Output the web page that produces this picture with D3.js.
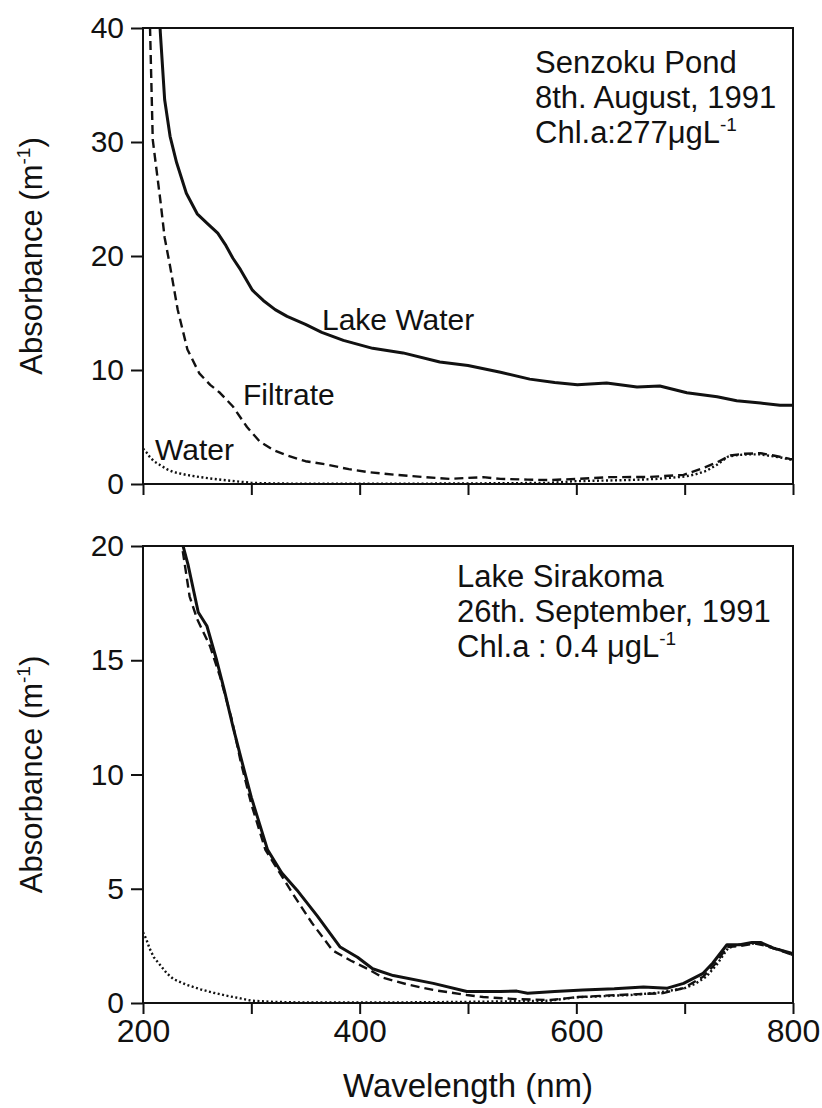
<!doctype html>
<html lang="en">
<head>
<meta charset="utf-8">
<script src="https://cdnjs.cloudflare.com/ajax/libs/d3/7.8.5/d3.min.js"></script>
<style>
  body { margin: 0; background: #fff; }
  svg { font-family: "Liberation Sans", Arial, Helvetica, sans-serif; }
  .axis path { display: none; }
  .axis line { stroke: #111; stroke-width: 2; }
  .axis text { fill: #111; }
</style>
</head>
<body>
<script>
// ---- data (wavelength nm, absorbance m^-1) ----
const xTicks = [200, 300, 400, 500, 600, 700, 800];
const xLabels = [200, 400, 600, 800];
const yTicksTop = [0, 10, 20, 30, 40];
const yTicksBottom = [0, 5, 10, 15, 20];

const pureWater = [[200, 3.1], [203, 2.8], [206, 2.4], [210, 2.0], [216, 1.65], [222, 1.3], [228, 1.05],
  [240, 0.8], [253, 0.6], [265, 0.45], [277, 0.32], [290, 0.2], [300, 0.1], [320, 0.05], [350, 0.02],
  [400, 0.02], [450, 0.03], [500, 0.05], [550, 0.08], [575, 0.1], [600, 0.25], [625, 0.3], [650, 0.35],
  [675, 0.45], [700, 0.65], [710, 0.85], [720, 1.15], [730, 1.7], [740, 2.4], [750, 2.55], [760, 2.6],
  [770, 2.6], [780, 2.45], [790, 2.3], [800, 2.1]];

const senzokuLake = [[213, 45], [216, 39.6], [220, 33.7], [225, 30.5], [231, 28.2], [240, 25.5], [250, 23.7],
  [260, 22.8], [269, 22.0], [276, 21.0], [283, 19.8], [290, 18.8], [301, 17.0], [311, 16.1], [322, 15.3],
  [333, 14.7], [350, 14.0], [365, 13.3], [385, 12.6], [412, 11.9], [440, 11.5], [474, 10.7], [500, 10.4],
  [530, 9.8], [557, 9.2], [580, 8.9], [601, 8.7], [628, 8.85], [656, 8.5], [677, 8.6], [702, 8.0],
  [730, 7.65], [748, 7.3], [770, 7.1], [788, 6.9], [800, 6.9]];

const senzokuFiltrate = [[205, 45], [206.5, 40], [209, 30.2], [216, 24.9], [220, 21.6], [225, 19.1], [232, 15.3],
  [241, 11.8], [252, 9.7], [262, 8.7], [271, 8.0], [283, 6.8], [296, 5.0], [308, 3.7], [320, 3.0], [333, 2.5],
  [350, 2.0], [370, 1.7], [390, 1.3], [407, 1.05], [434, 0.8], [460, 0.6], [483, 0.45], [514, 0.6], [530, 0.45],
  [555, 0.38], [576, 0.35], [601, 0.45], [631, 0.6], [668, 0.62], [699, 0.8], [717, 1.4], [730, 1.9],
  [742, 2.5], [755, 2.65], [770, 2.7], [782, 2.5], [797, 2.2], [800, 2.15]];

const sirakomaLake = [[236, 21], [237, 20], [241.5, 19.2], [251, 17.1], [259, 16.5], [268, 15.0], [275, 13.7],
  [283, 12.1], [290, 10.8], [300, 9.0], [315, 6.7], [328, 5.7], [342, 4.95], [361, 3.8], [382, 2.45],
  [398, 2.0], [412, 1.5], [431, 1.2], [468, 0.86], [499, 0.5], [530, 0.5], [545, 0.52], [555, 0.43],
  [580, 0.5], [606, 0.57], [635, 0.62], [662, 0.7], [684, 0.65], [699, 0.86], [717, 1.3], [726, 1.75],
  [739, 2.55], [751, 2.55], [762, 2.65], [770, 2.65], [782, 2.4], [797, 2.2], [800, 2.15]];

const sirakomaFiltrate = [[235, 21], [236, 20], [243, 17.8], [250, 16.8], [262, 15.6], [271, 14.3], [282, 12.4],
  [290, 10.6], [300, 8.7], [313, 6.7], [338, 4.8], [356, 3.5], [375, 2.3], [392, 1.85], [407, 1.5],
  [422, 1.1], [445, 0.8], [468, 0.57], [499, 0.35], [514, 0.26], [545, 0.17], [576, 0.13], [601, 0.26],
  [638, 0.35], [680, 0.43], [699, 0.65], [717, 1.15], [730, 1.8], [739, 2.45], [752, 2.5], [765, 2.6],
  [775, 2.5], [785, 2.35], [797, 2.15], [800, 2.1]];

// ---- canvas ----
const w = 822, h = 1108;
const left = 143, right = 793;

const svg = d3.select("body").append("svg")
  .attr("width", w)
  .attr("height", h);

const x = d3.scaleLinear().domain([200, 800]).range([left, right]);

const styles = {
  lake: { width: 3, dash: null },
  filtrate: { width: 2.4, dash: "9,5" },
  water: { width: 2.4, dash: "2,2.5" }
};

function panel(id, top, bottom, yMax, yTicks, showXLabels, series) {
  const y = d3.scaleLinear().domain([0, yMax]).range([bottom, top]);

  svg.append("clipPath").attr("id", id)
    .append("rect")
    .attr("x", left).attr("y", top)
    .attr("width", right - left).attr("height", bottom - top);

  const line = d3.line().x(d => x(d[0])).y(d => y(d[1]));

  series.forEach(s => {
    svg.append("path")
      .datum(s.data)
      .attr("clip-path", "url(#" + id + ")")
      .attr("d", line)
      .attr("fill", "none")
      .attr("stroke", "#111")
      .attr("stroke-width", styles[s.kind].width)
      .attr("stroke-dasharray", styles[s.kind].dash)
      .attr("stroke-linejoin", "round");
  });

  // frame
  svg.append("rect")
    .attr("x", left).attr("y", top)
    .attr("width", right - left).attr("height", bottom - top)
    .attr("fill", "none")
    .attr("stroke", "#111")
    .attr("stroke-width", 2);

  svg.append("g")
    .attr("class", "axis")
    .attr("transform", "translate(0," + bottom + ")")
    .call(d3.axisBottom(x).tickValues(xTicks).tickSize(11).tickPadding(5)
      .tickFormat(d => showXLabels && xLabels.includes(d) ? d : ""))
    .selectAll("text").style("font-size", "32px");

  svg.append("g")
    .attr("class", "axis")
    .attr("transform", "translate(" + left + ",0)")
    .call(d3.axisLeft(y).tickValues(yTicks).tickSize(12).tickPadding(7))
    .selectAll("text").style("font-size", "30px");

  // y axis label
  const yl = svg.append("text")
    .attr("transform", "translate(42," + (top + bottom) / 2 + ") rotate(-90)")
    .attr("text-anchor", "middle")
    .style("font-size", "31px")
    .attr("fill", "#111");
  yl.append("tspan").text("Absorbance (m");
  yl.append("tspan").attr("dy", -12).style("font-size", "19px").text("-1");
  yl.append("tspan").attr("dy", 12).text(")");

  return y;
}

panel("clipTop", 28, 484, 40, yTicksTop, false, [
  { kind: "lake", data: senzokuLake },
  { kind: "filtrate", data: senzokuFiltrate },
  { kind: "water", data: pureWater }
]);

panel("clipBottom", 546, 1003, 20, yTicksBottom, true, [
  { kind: "lake", data: sirakomaLake },
  { kind: "filtrate", data: sirakomaFiltrate },
  { kind: "water", data: pureWater }
]);

// annotation blocks
function block(x0, y0, lines) {
  lines.forEach((l, i) => {
    const t = svg.append("text")
      .attr("x", x0)
      .attr("y", y0 + i * 35)
      .attr("fill", "#111")
      .style("font-size", "31px");
    t.append("tspan").text(l[0]);
    if (l[1]) {
      t.append("tspan").attr("dy", -12).style("font-size", "19px").text(l[1]);
    }
  });
}

block(535, 73, [["Senzoku Pond"], ["8th. August, 1991"], ["Chl.a:277\u03bcgL", "-1"]]);
block(457, 587, [["Lake Sirakoma"], ["26th. September, 1991"], ["Chl.a : 0.4 \u03bcgL", "-1"]]);

// curve labels
[["Lake Water", 322, 330], ["Filtrate", 243, 405], ["Water", 155, 460]].forEach(d => {
  svg.append("text")
    .attr("x", d[1]).attr("y", d[2])
    .attr("fill", "#111")
    .style("font-size", "30px")
    .text(d[0]);
});

// x axis label
svg.append("text")
  .attr("x", (left + right) / 2)
  .attr("y", 1097)
  .attr("text-anchor", "middle")
  .attr("fill", "#111")
  .style("font-size", "33px")
  .text("Wavelength (nm)");
</script>
</body>
</html>
